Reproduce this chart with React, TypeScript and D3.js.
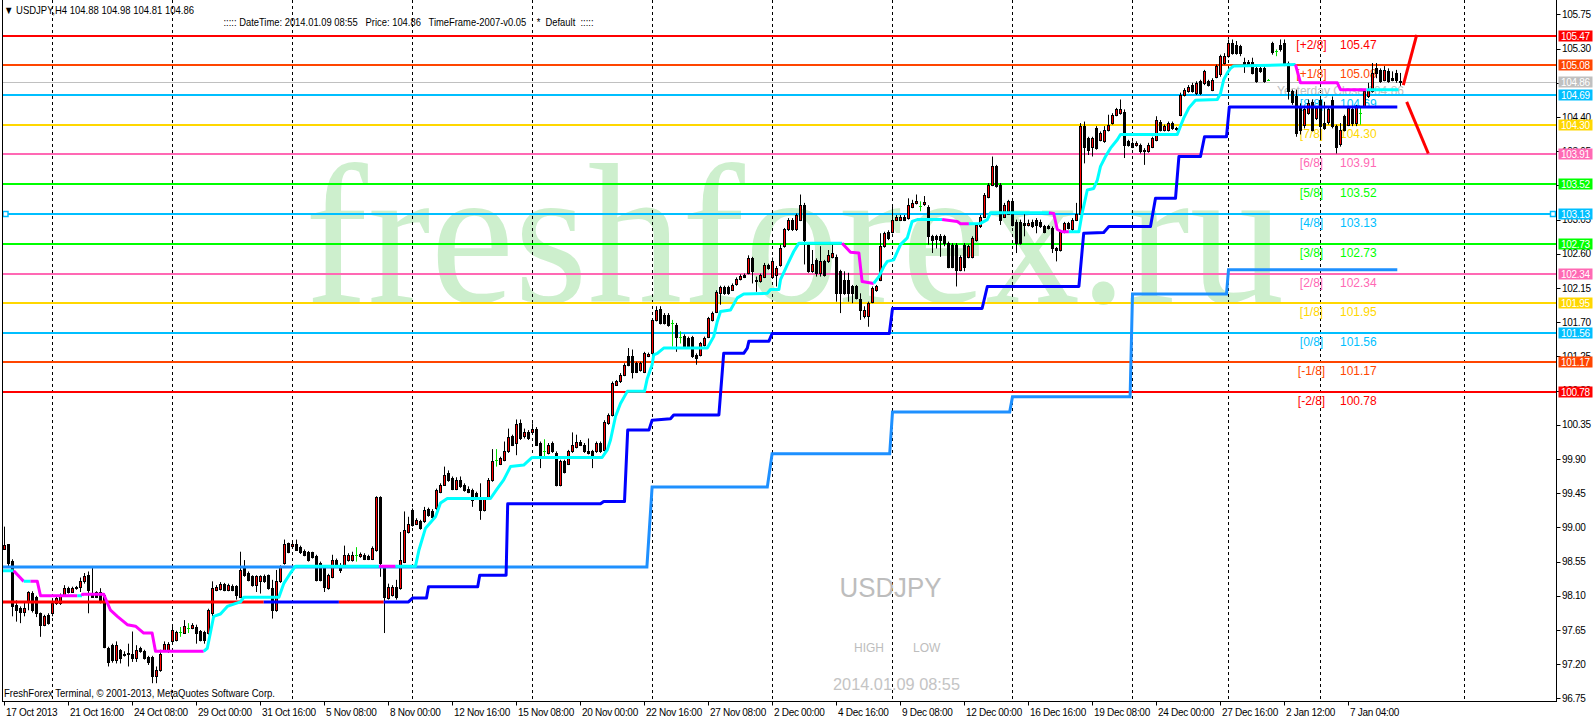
import React, { useEffect } from "react";
import * as d3 from "d3";

// ---------- OHLC (USDJPY H4, bar 0 = 17 Oct 2013 00:00) ----------
const opens = [
98.72,98.78,98.56,97.98,97.94,97.89,98.02,98.14,98.09,97.87,97.72,97.85,97.87,98.00,98.00,98.11,98.20,98.15,98.20,98.21,
98.30,98.37,98.11,98.15,98.15,98.11,97.41,97.45,97.26,97.39,97.34,97.35,97.34,97.28,97.41,97.37,97.30,97.30,97.04,97.12,
97.39,97.37,97.50,97.52,97.63,97.61,97.67,97.67,97.69,97.64,97.63,97.61,97.87,98.18,98.19,98.25,98.18,98.23,98.23,98.09,
98.46,98.40,98.36,98.24,98.29,98.36,98.37,98.20,97.91,98.29,98.53,98.79,98.75,98.78,98.74,98.69,98.67,98.67,98.62,98.53,
98.48,98.20,98.35,98.57,98.51,98.51,98.57,98.57,98.64,98.62,98.64,98.62,98.59,98.70,99.40,98.48,98.07,98.11,98.22,98.20,
98.55,98.94,99.23,99.05,99.08,99.08,99.24,99.22,99.25,99.47,99.56,99.71,99.65,99.51,99.63,99.56,99.51,99.49,99.45,99.36,
99.23,99.38,99.63,99.89,99.84,99.89,100.00,100.20,100.11,100.37,100.20,100.26,100.26,100.30,100.11,100.00,99.98,100.11,99.98,99.56,
99.87,99.84,100.00,100.06,100.13,100.09,100.00,100.00,100.00,100.11,100.02,100.37,100.48,100.88,100.92,101.01,101.25,101.25,101.16,101.07,
101.05,101.26,101.29,101.73,101.88,101.80,101.80,101.69,101.66,101.50,101.52,101.49,101.50,101.27,101.27,101.40,101.51,101.73,101.84,102.08,
102.16,102.16,102.13,102.20,102.27,102.32,102.35,102.54,102.26,102.24,102.30,102.45,102.30,102.32,102.45,102.70,102.92,103.05,102.92,103.05,
103.24,102.72,102.37,102.52,102.35,102.50,102.50,102.56,102.56,102.37,102.26,102.26,102.17,102.17,102.00,101.78,101.78,101.97,102.13,102.26,
102.70,102.89,102.89,103.05,103.05,103.09,103.07,103.22,103.27,103.23,103.25,103.22,102.83,102.83,102.84,102.83,102.74,102.72,102.72,102.39,
102.72,102.56,102.56,102.78,102.96,103.09,103.35,103.51,103.75,103.51,103.09,103.13,103.29,103.02,103.02,103.00,102.98,103.02,103.05,103.02,
102.96,102.96,102.94,102.67,102.65,102.89,103.00,102.92,103.05,103.13,104.28,104.12,104.01,104.25,104.10,104.08,104.23,104.32,104.43,104.45,
104.47,104.08,104.06,104.03,104.03,103.97,103.95,104.01,104.10,104.34,104.23,104.23,104.32,104.25,104.43,104.69,104.74,104.82,104.71,104.87,
104.85,104.87,104.76,104.93,104.96,105.11,105.20,105.37,105.35,105.33,105.13,105.13,105.13,105.04,105.04,105.04,104.89,105.37,105.27,105.35,
105.37,105.11,104.74,104.67,104.54,104.30,104.45,104.60,104.39,104.63,104.32,104.34,104.63,104.28,104.04,104.41,104.30,104.50,104.32,104.45,
104.54,104.67,104.74,105.04,105.02,104.89,105.00,104.91,104.98,104.88
];
const highs = [
99.01,98.78,98.58,98.04,97.96,98.02,98.16,98.16,98.10,97.88,97.85,97.87,98.07,98.11,98.13,98.24,98.22,98.22,98.23,98.34,
98.40,98.42,98.48,98.16,98.20,98.13,97.43,97.47,97.50,97.40,97.37,97.47,97.63,97.45,97.43,97.39,97.31,97.31,97.17,97.39,
97.50,97.49,97.69,97.64,97.69,97.78,97.74,97.74,97.72,97.65,97.64,97.93,98.29,98.24,98.28,98.27,98.26,98.25,98.24,98.68,
98.57,98.42,98.37,98.37,98.37,98.38,98.38,98.31,98.44,98.50,98.84,98.80,98.80,98.84,98.76,98.71,98.69,98.68,98.64,98.55,
98.50,98.39,98.64,98.59,98.53,98.76,98.66,98.68,98.74,98.67,98.66,98.64,98.75,99.41,99.41,98.50,98.26,98.24,98.31,98.94,
99.21,99.14,99.25,99.12,99.10,99.27,99.26,99.24,99.51,99.58,99.80,99.75,99.67,99.66,99.67,99.58,99.54,99.51,99.47,99.58,
99.40,99.65,100.03,100.03,99.93,100.13,100.30,100.22,100.42,100.42,100.30,100.28,100.37,100.32,100.13,100.16,100.11,100.13,100.00,99.89,
99.89,100.02,100.25,100.22,100.15,100.11,100.17,100.02,100.13,100.13,100.41,100.50,100.92,100.94,101.03,101.16,101.36,101.34,101.18,101.18,
101.31,101.30,101.75,101.91,101.91,101.82,101.82,101.73,101.69,101.58,101.54,101.51,101.52,101.29,101.44,101.51,101.77,101.84,102.12,102.18,
102.18,102.18,102.21,102.29,102.33,102.34,102.58,102.56,102.30,102.34,102.48,102.47,102.55,102.44,102.72,102.94,103.07,103.07,103.13,103.38,
103.27,102.74,102.65,102.54,102.70,102.52,102.65,102.72,102.59,102.39,102.37,102.35,102.19,102.19,102.08,101.91,101.97,102.17,102.19,102.87,
102.89,102.91,103.22,103.11,103.11,103.11,103.33,103.31,103.38,103.29,103.36,103.24,102.85,102.85,102.86,102.85,102.76,102.74,102.74,102.58,
102.74,102.72,102.83,103.00,103.11,103.40,103.53,103.88,103.77,103.53,103.27,103.31,103.31,103.05,103.05,103.13,103.05,103.05,103.07,103.05,
102.98,102.98,102.96,102.69,102.91,103.02,103.02,103.07,103.27,104.32,104.34,104.14,104.14,104.28,104.21,104.28,104.43,104.45,104.52,104.63,
104.50,104.10,104.08,104.08,104.05,103.99,104.06,104.14,104.41,104.36,104.30,104.34,104.34,104.27,104.72,104.78,104.82,104.85,104.87,104.89,
105.02,104.89,104.91,105.09,105.22,105.24,105.42,105.42,105.40,105.35,105.18,105.15,105.18,105.07,105.07,105.07,104.90,105.39,105.29,105.42,
105.42,105.13,104.76,104.76,104.58,104.52,104.63,104.63,104.54,104.67,104.60,104.52,104.67,104.30,104.32,104.43,104.54,104.54,104.56,104.52,
104.76,104.85,105.11,105.11,105.04,105.07,105.04,105.00,105.02,104.98
];
const lows = [
98.72,98.48,97.83,97.76,97.74,97.83,97.91,97.88,97.82,97.56,97.70,97.72,97.83,97.98,97.98,98.09,98.13,98.14,98.18,98.15,
98.26,97.87,98.08,98.07,98.00,97.41,97.17,97.22,97.21,97.21,97.30,97.17,97.23,97.23,97.35,97.26,97.19,96.95,96.95,97.10,
97.36,97.35,97.47,97.50,97.56,97.61,97.61,97.66,97.47,97.50,97.47,97.59,97.83,98.16,98.17,98.16,98.16,98.16,98.05,98.07,
98.35,98.29,98.22,98.15,98.13,98.27,98.18,97.80,97.89,98.27,98.51,98.66,98.73,98.69,98.65,98.62,98.55,98.59,98.29,98.29,
98.15,98.18,98.33,98.49,98.40,98.49,98.55,98.55,98.55,98.60,98.57,98.57,98.57,98.68,98.35,97.61,98.05,98.09,98.05,98.18,
98.53,98.92,99.01,99.03,98.97,99.06,99.14,99.10,99.23,99.45,99.55,99.60,99.49,99.49,99.52,99.47,99.45,99.27,99.36,99.10,
99.21,99.36,99.60,99.80,99.82,99.87,99.98,100.07,99.95,100.15,100.17,100.15,100.24,100.07,99.78,99.93,99.96,99.98,99.54,99.54,
99.71,99.82,99.98,100.04,100.07,99.98,99.96,99.78,99.98,99.98,100.00,100.35,100.46,100.86,100.90,100.99,101.12,100.96,101.03,101.05,
101.03,101.24,101.27,101.71,101.67,101.67,101.64,101.38,101.31,101.42,101.36,101.36,101.23,101.14,101.25,101.38,101.49,101.71,101.82,101.93,
102.06,102.06,102.11,102.18,102.25,102.28,102.33,102.21,102.10,102.22,102.28,102.39,102.28,102.17,102.43,102.68,102.90,102.90,102.90,103.03,
102.46,102.35,102.35,102.30,102.30,102.30,102.48,102.54,101.97,101.82,102.06,101.97,101.95,102.00,101.73,101.75,101.64,101.95,102.10,102.24,
102.68,102.78,102.87,103.03,103.03,103.03,103.05,103.20,103.25,103.16,103.23,102.72,102.61,102.67,102.56,102.70,102.41,102.41,102.17,102.37,
102.37,102.54,102.54,102.76,102.94,103.07,103.33,103.49,103.47,102.98,103.07,103.11,102.96,102.61,102.72,102.83,102.96,102.94,102.87,102.94,
102.87,102.92,102.61,102.50,102.63,102.87,102.92,102.90,103.03,103.11,103.79,103.90,103.88,103.97,104.08,104.06,104.21,104.30,104.41,104.43,
103.86,104.01,103.99,104.01,103.92,103.77,103.93,103.99,104.08,104.21,104.21,104.21,104.23,104.22,104.41,104.67,104.72,104.72,104.69,104.69,
104.82,104.80,104.74,104.91,104.93,105.09,105.18,105.22,105.22,105.20,104.98,105.07,104.96,104.85,104.98,104.85,104.88,105.22,105.20,105.26,
105.07,104.63,104.56,104.14,104.17,104.25,104.43,104.21,104.36,104.10,104.23,104.30,104.25,103.92,104.01,104.21,104.28,104.28,104.28,104.30,
104.52,104.65,104.72,104.91,104.85,104.87,104.85,104.87,104.85,104.81
];
const closes = [
98.77,98.53,97.96,97.91,97.89,97.94,98.15,97.91,97.87,97.72,97.83,97.74,98.00,98.07,98.11,98.20,98.15,98.20,98.21,98.30,
98.36,98.18,98.09,98.09,98.02,97.43,97.23,97.26,97.45,97.28,97.32,97.34,97.28,97.39,97.37,97.28,97.23,97.04,97.12,97.34,
97.47,97.47,97.65,97.62,97.63,97.70,97.67,97.72,97.61,97.52,97.52,97.91,98.20,98.22,98.26,98.18,98.24,98.18,98.11,98.44,
98.37,98.31,98.24,98.36,98.36,98.29,98.20,97.91,98.29,98.48,98.78,98.68,98.78,98.70,98.67,98.64,98.57,98.61,98.31,98.31,
98.22,98.37,98.57,98.51,98.44,98.64,98.64,98.64,98.64,98.65,98.59,98.59,98.73,99.40,98.53,98.09,98.22,98.22,98.09,98.57,
98.97,99.05,99.03,99.10,98.99,99.23,99.16,99.14,99.49,99.56,99.69,99.63,99.51,99.63,99.54,99.49,99.47,99.36,99.38,99.23,
99.37,99.63,99.88,99.89,99.91,100.00,100.19,100.09,100.36,100.17,100.26,100.17,100.29,100.09,99.95,100.00,100.09,100.00,99.56,99.87,
99.73,100.00,100.09,100.12,100.09,100.00,99.98,99.95,100.11,100.00,100.39,100.48,100.90,100.92,101.01,101.14,101.14,101.05,101.05,101.16,
101.29,101.28,101.73,101.86,101.69,101.69,101.66,101.69,101.51,101.50,101.38,101.38,101.25,101.23,101.42,101.49,101.75,101.82,102.10,102.16,
102.08,102.08,102.19,102.27,102.31,102.30,102.54,102.37,102.24,102.32,102.45,102.41,102.50,102.41,102.68,102.92,103.05,102.92,103.11,103.24,
102.78,102.37,102.46,102.35,102.50,102.32,102.59,102.61,102.08,102.08,102.08,102.08,102.08,102.02,101.86,101.86,101.95,102.15,102.17,102.70,
102.87,102.81,103.05,103.09,103.09,103.05,103.24,103.27,103.29,103.23,103.28,102.83,102.78,102.79,102.78,102.74,102.43,102.43,102.39,102.56,
102.43,102.70,102.81,102.98,103.09,103.38,103.51,103.75,103.49,103.05,103.24,103.29,102.98,102.74,102.74,102.98,103.00,102.96,102.98,102.96,
102.89,102.94,102.67,102.65,102.89,103.00,102.94,103.05,103.13,104.28,104.01,103.97,104.12,103.99,104.19,104.23,104.30,104.43,104.50,104.50,
104.03,104.03,104.01,104.06,103.95,103.95,104.03,104.12,104.36,104.23,104.28,104.32,104.25,104.24,104.69,104.76,104.80,104.74,104.85,104.71,
105.00,104.82,104.89,105.07,105.20,105.20,105.37,105.24,105.24,105.24,105.09,105.09,104.98,104.87,105.00,104.87,104.89,105.26,105.27,105.29,
105.11,104.74,104.60,104.19,104.23,104.50,104.58,104.23,104.52,104.28,104.25,104.50,104.28,104.01,104.23,104.23,104.52,104.32,104.54,104.45,
104.74,104.76,104.98,104.98,104.87,105.02,104.87,104.89,104.89,104.86
];

// ---------- axes ----------
const timeLabels = ["17 Oct 2013","21 Oct 16:00","24 Oct 08:00","29 Oct 00:00","31 Oct 16:00","5 Nov 08:00","8 Nov 00:00",
"12 Nov 16:00","15 Nov 08:00","20 Nov 00:00","22 Nov 16:00","27 Nov 08:00","2 Dec 00:00","4 Dec 16:00","9 Dec 08:00",
"12 Dec 00:00","16 Dec 16:00","19 Dec 08:00","24 Dec 00:00","27 Dec 16:00","2 Jan 12:00","7 Jan 04:00"];
const labelEvery = 16;
const weekSeparators = [12, 42, 72, 102, 132, 162, 192, 222, 252, 282, 306, 329, 365];
const priceTicks = [96.75,97.20,97.65,98.10,98.55,99.00,99.45,99.90,100.35,100.80,101.25,101.70,102.15,102.60,103.05,103.50,103.95,104.40,104.85,105.30,105.75];

// ---------- Murrey Math levels ----------
const murreyLevels = [105.47,105.08,104.69,104.30,103.91,103.52,103.13,102.73,102.34,101.95,101.56,101.17,100.78];
const murreyNames = ["[+2/8]","[+1/8]","[8/8]","[7/8]","[6/8]","[5/8]","[4/8]","[3/8]","[2/8]","[1/8]","[0/8]","[-1/8]","[-2/8]"];
const murreyColors = ["#ff0000","#ff4500","#00bfff","#ffd700","#ff69b4","#00ff00","#00bfff","#00ff00","#ff69b4","#ffd700","#00bfff","#ff4500","#ff0000"];
const yesterdayClose = 104.86;

// ---------- trailing line (cyan up / magenta down) ----------
const trendBars = [-1,2.3,4.8,6.5,8.2,9,18.2,19.4,19.5,24.8,26.5,28.2,30.7,32.75,34.8,36.9,37.75,49.8,50.7,52.3,54,55.7,57.3,59,59.8,68.6,69.8,71.5,72.75,93.6,97.75,102.75,103.6,
105.25,107.75,109,110.7,121.5,123.2,124.8,126.5,129.8,131.9,149.4,150.7,151.5,152.75,154,155.7,160,160.7,161.9,162.3,163.2,164.8,175.7,177.3,178.2,179,181.5,183.2,184.8,190.7,191.5,193.6,
194,195.7,197.3,198.6,209.4,211.5,213.6,214.4,217.3,218.6,219.8,220.7,222.3,224,225.7,226.9,228.2,234.4,238.2,239,241.1,244,245.7,246.5,261.1,262.3,263.2,264.4,266.1,268.6,269.4,270.7,
272.3,273.2,274,275.25,276.5,278.2,279,293.2,294,294.8,296.1,297.75,303.2,304,304.8,305.7,306.5,307.3,322.75,324,333.2,334,340.5,348.5];
const trendVals = [98.43,98.43,98.29,98.29,98.29,98.10,98.10,98.10,98.12,98.12,97.91,97.83,97.72,97.70,97.61,97.61,97.37,97.37,97.41,97.83,97.86,97.96,97.99,98.02,98.08,98.08,98.26,98.40,98.49,98.49,98.49,98.49,98.70,
98.99,99.14,99.32,99.38,99.38,99.51,99.625,99.80,99.82,99.92,99.92,100.02,100.15,100.46,100.63,100.79,100.79,100.96,101.14,101.27,101.29,101.36,101.36,101.51,101.71,101.84,101.86,102.02,102.07,102.08,102.13,102.13,
102.26,102.455,102.63,102.74,102.74,102.62,102.61,102.235,102.21,102.30,102.43,102.50,102.52,102.72,102.81,103.025,103.05,103.05,103.025,102.995,102.995,103.00,103.05,103.14,103.14,103.13,102.92,102.89,102.89,102.89,103.13,103.44,
103.46,103.57,103.75,103.88,103.99,104.10,104.17,104.17,104.28,104.385,104.52,104.62,104.63,104.71,104.89,104.98,105.04,105.07,105.09,104.85,104.85,104.76,104.76,104.76];
const trendUp = [1,0,1,0,0,0,1,0,0,0,0,0,0,0,0,0,0,1,1,1,1,1,1,1,1,1,1,1,1,0,1,1,1,
1,1,1,1,1,1,1,1,1,1,1,1,1,1,1,1,1,1,1,1,1,1,1,1,1,1,1,1,1,1,1,1,
1,1,1,1,0,0,0,0,1,1,1,1,1,1,1,1,1,0,0,0,1,1,1,1,0,0,0,0,1,1,1,1,
1,1,1,1,1,1,1,1,1,1,1,1,1,1,1,1,1,1,0,0,0,0,1,1];

// ---------- stepped stop line (blue, red when inactive) ----------
const stopBars = [-1,64.8,83.6,94.8,101,102,105.5,106,118.3,118.8,125.4,125.8,149,149.8,155,155.8,161.1,161.9,166.5,167.3,178.6,179.8,184.8,185.7,186.1,191.1,191.9,221.2,222,244.4,245.7,268.6,269.8,274.8,276.1,286.5,287.75,292.75,293.6,299,300,305.5,306.2,348.2];
const stopVals = [98.02,98.02,98.02,98.02,98.02,98.07,98.07,98.22,98.22,98.37,98.37,99.31,99.31,99.34,99.34,100.28,100.28,100.41,100.43,100.48,100.48,101.29,101.29,101.36,101.45,101.45,101.55,101.55,101.88,101.88,102.17,102.17,102.87,102.88,102.96,102.96,103.33,103.33,103.88,103.88,104.14,104.14,104.53,104.53];
const stopBlue = [0,1,0,1,1,1,1,1,1,1,1,1,1,1,1,1,1,1,1,1,1,1,1,1,1,1,1,1,1,1,1,1,1,1,1,1,1,1,1,1,1,1,1,1];

// ---------- weekly pivot line (dodger blue) ----------
const pivotBars = [-1,160.6,161.9,190.7,191.9,221.3,222,251.3,252,281.4,282,305.5,306,348.2];
const pivotVals = [98.48,98.48,99.53,99.53,99.97,99.97,100.52,100.52,100.72,100.72,102.07,102.07,102.39,102.39];

// ---------- hand-drawn red lines ----------
const handLineBars = [[349.7, 353.05], [350.55, 355.95]];
const handLineVals = [[104.82, 105.48], [104.60, 103.92]];

const FONT = "'Liberation Sans', Arial, sans-serif";

function groups(bars: number[], vals: number[], flags: number[]) {
  const out: { pts: [number, number][]; flag: number }[] = [];
  let cur: [number, number][] = [[bars[0], vals[0]]];
  let f = flags[0];
  for (let k = 1; k < bars.length; k++) {
    cur.push([bars[k], vals[k]]);
    if (k < bars.length - 1 && flags[k] !== f) {
      out.push({ pts: cur, flag: f });
      cur = [[bars[k], vals[k]]];
      f = flags[k];
    }
  }
  out.push({ pts: cur, flag: f });
  return out;
}

export default function App() {
  useEffect(() => {
    document.body.style.margin = "0";
  }, []);

  const x = d3.scaleLinear().domain([0, 1]).range([4.5, 8.5]);
  const y = d3.scaleLinear().domain([96.75, 105.75]).range([698.4, 14.4]);
  const line = d3.line<[number, number]>().x((d) => x(d[0])).y((d) => y(d[1]));

  const axisX = 1556.5;
  const bottomY = 701.5;

  const trendGroups = groups(trendBars, trendVals, trendUp);
  const stopGroups = groups(stopBars, stopVals, stopBlue);
  const pivotPts = pivotBars.map((b, k) => [b, pivotVals[k]] as [number, number]);

  const boxes = [
    ...murreyLevels.map((v, k) => ({ v, c: murreyColors[k] })),
    { v: yesterdayClose, c: "#c0c0c0" },
  ];

  return (
    <svg width={1596} height={720} style={{ position: "absolute", left: 0, top: 0, display: "block", background: "#fff" }} fontFamily={FONT}>
      <defs>
        <clipPath id="plot">
          <rect x={3} y={0} width={axisX - 3} height={bottomY} />
        </clipPath>
      </defs>
      <rect x={0} y={0} width={1596} height={720} fill="#ffffff" />

      {/* watermark */}
      <text x={305} y={302} fontFamily="'Liberation Serif', 'Times New Roman', serif" fontSize={200} fill="#cdefcd" textLength={979} lengthAdjust="spacingAndGlyphs">freshforex.ru</text>

      {/* period separators */}
      {weekSeparators.map((b) => (
        <line key={b} x1={Math.round(x(b)) - 0.5} x2={Math.round(x(b)) - 0.5} y1={0} y2={bottomY} stroke="#000" strokeDasharray="3,3" strokeWidth={1} />
      ))}

      {/* center info texts */}
      <text x={890.5} y={597} textAnchor="middle" fontSize={28} fill="#bdbdbd" textLength={102} lengthAdjust="spacingAndGlyphs">USDJPY</text>
      <text x={854} y={652} fontSize={12} fill="#bdbdbd">HIGH</text>
      <text x={913} y={652} fontSize={12} fill="#bdbdbd">LOW</text>
      <text x={896.5} y={690} textAnchor="middle" fontSize={17} fill="#c4c4c4" textLength={127} lengthAdjust="spacingAndGlyphs">2014.01.09 08:55</text>

      <g clipPath="url(#plot)">
        {/* yesterday close */}
        <line x1={0} x2={axisX} y1={Math.round(y(yesterdayClose)) + 0.5} y2={Math.round(y(yesterdayClose)) + 0.5} stroke="#c0c0c0" strokeWidth={1} />
        <text x={1277} y={95} fontSize={12} fill="#c0c0c0">Yesterday Close 104.86</text>

        {/* Murrey lines */}
        {murreyLevels.map((v, k) => (
          <line key={v} x1={0} x2={axisX} y1={Math.round(y(v))} y2={Math.round(y(v))} stroke={murreyColors[k]} strokeWidth={2} />
        ))}
        {murreyLevels.map((v, k) => (
          <g key={"t" + v} fontSize={12} fill={murreyColors[k]}>
            <text x={1311.5} y={Math.round(y(v)) + 12.5} textAnchor="middle">{murreyNames[k]}</text>
            <text x={1340} y={Math.round(y(v)) + 12.5}>{v.toFixed(2)}</text>
          </g>
        ))}

        {/* candles */}
        {opens.map((o, i) => {
          const h = highs[i], l = lows[i], c = closes[i];
          const cx = Math.round(x(i) - 0.5);
          const wx = cx + 0.5;
          if (Math.abs(c - o) < 0.005) {
            const yy = Math.round(y(o)) + 0.5;
            return (
              <g key={i} stroke="#00dd00">
                <line x1={wx} x2={wx} y1={y(h)} y2={y(l)} />
                <line x1={cx - 1} x2={cx + 2} y1={yy} y2={yy} />
              </g>
            );
          }
          const top = Math.round(y(Math.max(o, c))) + 0.5;
          const bot = Math.round(y(Math.min(o, c))) + 0.5;
          return (
            <g key={i}>
              <line x1={wx} x2={wx} y1={y(h)} y2={y(l)} stroke="#000" />
              <rect x={cx - 0.5} y={top} width={2} height={Math.max(bot - top, 1)} fill={c > o ? "#ff0000" : "#000"} stroke="#000" strokeWidth={1} />
            </g>
          );
        })}

        {/* indicator lines */}
        <path d={line(pivotPts) || ""} fill="none" stroke="#1e90ff" strokeWidth={3} />
        {stopGroups.map((g, k) => (
          <path key={"s" + k} d={line(g.pts) || ""} fill="none" stroke={g.flag ? "#0000ff" : "#ff0000"} strokeWidth={3} strokeLinejoin="round" />
        ))}
        {trendGroups.map((g, k) => (
          <path key={"tr" + k} d={line(g.pts) || ""} fill="none" stroke={g.flag ? "#00ffff" : "#ff00ff"} strokeWidth={3} strokeLinejoin="round" />
        ))}

        {/* hand-drawn red lines */}
        {handLineBars.map((bb, k) => (
          <line key={"h" + k} x1={x(bb[0])} x2={x(bb[1])} y1={y(handLineVals[k][0])} y2={y(handLineVals[k][1])} stroke="#ff0000" strokeWidth={3} />
        ))}

        {/* selection handles on 103.13 line */}
        <rect x={3} y={Math.round(y(103.13)) - 2.5} width={5} height={5} fill="#fff" stroke="#00bfff" strokeWidth={1.5} />
        <rect x={1550.5} y={Math.round(y(103.13)) - 2.5} width={5} height={5} fill="#fff" stroke="#00bfff" strokeWidth={1.5} />
      </g>

      {/* frame */}
      <line x1={2.5} x2={2.5} y1={0} y2={bottomY} stroke="#000" />
      <line x1={axisX} x2={axisX} y1={0} y2={bottomY} stroke="#000" />
      <line x1={2} x2={axisX + 0.5} y1={bottomY} y2={bottomY} stroke="#000" />

      {/* price axis */}
      {priceTicks.map((p) => (
        <g key={p}>
          <line x1={axisX} x2={axisX + 4} y1={Math.round(y(p)) + 0.5} y2={Math.round(y(p)) + 0.5} stroke="#000" />
          <text x={1562} y={y(p) + 3.5} fontSize={10} fill="#000" letterSpacing={-0.3}>{p.toFixed(2)}</text>
        </g>
      ))}
      {boxes.map((b) => (
        <g key={"b" + b.v}>
          <rect x={1558.5} y={Math.round(y(b.v)) - 5.5} width={34} height={11} fill={b.c} />
          <text x={1561} y={Math.round(y(b.v)) + 4} fontSize={10} fill="#fff" letterSpacing={-0.3}>{b.v.toFixed(2)}</text>
        </g>
      ))}

      {/* time axis */}
      {timeLabels.map((t, k) => {
        const bx = Math.round(x(k * labelEvery)) - 0.5;
        return (
          <g key={t}>
            <line x1={bx} x2={bx} y1={bottomY} y2={bottomY + 4} stroke="#000" />
            <text x={bx + 1.5} y={716} fontSize={10} fill="#000" letterSpacing={-0.3}>{t}</text>
          </g>
        );
      })}

      {/* header texts */}
      <text x={4} y={14} fontSize={11} fill="#000" textLength={190} lengthAdjust="spacingAndGlyphs">▼ USDJPY,H4  104.88 104.98 104.81 104.86</text>
      <text x={223.5} y={26} fontSize={10.5} fill="#000" textLength={370} lengthAdjust="spacingAndGlyphs" xmlSpace="preserve">{"::::: DateTime: 2014.01.09 08:55   Price: 104.86   TimeFrame-2007-v0.05    *  Default  :::::"}</text>
      <text x={4} y={697} fontSize={10} fill="#000" textLength={271} lengthAdjust="spacingAndGlyphs">FreshForex Terminal, © 2001-2013, MetaQuotes Software Corp.</text>
    </svg>
  );
}
